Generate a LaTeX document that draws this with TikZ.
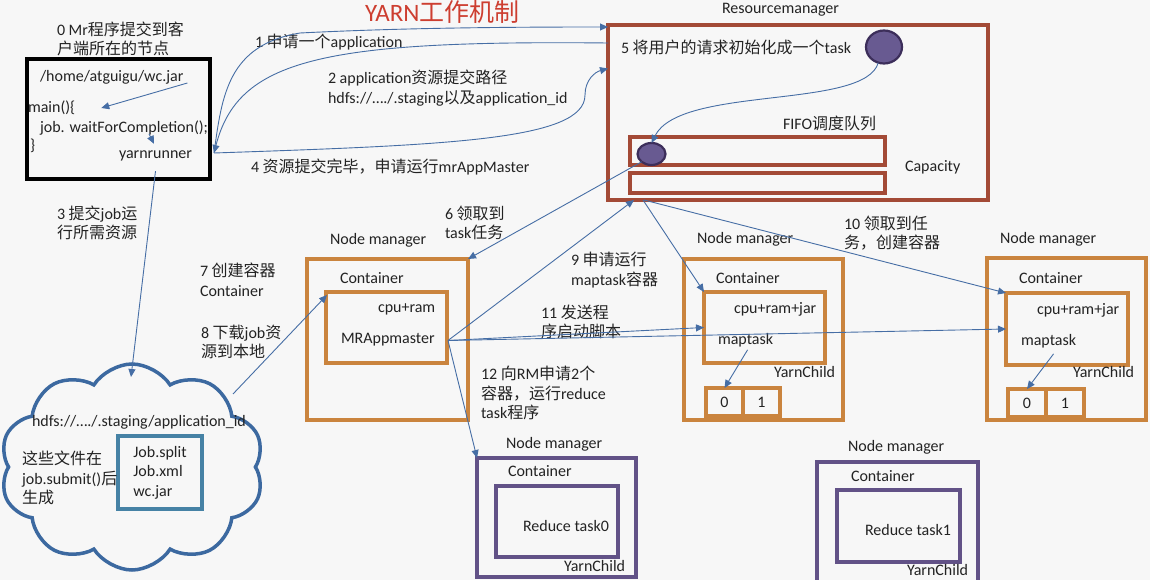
\documentclass[tikz,border=0pt]{standalone}
\usepackage{fontspec}
\setmainfont{Carlito}
\newfontfamily\cjk{Noto Sans CJK SC}
\newcommand{\zh}[1]{{\cjk #1}}
\usepackage{tikz}
\usetikzlibrary{arrows.meta,positioning,shapes.geometric,shapes.symbols,calc}
\definecolor{paper}{RGB}{247,247,247}
\definecolor{ink}{RGB}{35,35,35}
\definecolor{titlered}{RGB}{205,62,48}
\definecolor{rmred}{RGB}{163,74,54}
\definecolor{nmorange}{RGB}{202,132,62}
\definecolor{rdpurple}{RGB}{98,82,135}
\definecolor{dotfill}{RGB}{104,90,145}
\definecolor{dotedge}{RGB}{60,46,90}
\definecolor{flowblue}{RGB}{70,110,165}
\definecolor{cloudblue}{RGB}{60,105,160}
\definecolor{filebox}{RGB}{70,130,165}

\begin{document}
\begin{tikzpicture}[x=1pt, y=-1pt, >={Triangle[length=8pt,width=7pt]},
    every node/.style={font=\fontsize{16}{19.5}\selectfont, text=ink, inner sep=0pt, outer sep=0pt},
    txt/.style={anchor=west, align=left},
    box/.style={draw, line width=3.5pt},
    rmbox/.style={box, draw=rmred},
    nmbox/.style={box, draw=nmorange},
    rdbox/.style={box, draw=rdpurple},
    jobdot/.style={ellipse, draw=dotedge, fill=dotfill, line width=2.2pt},
    flow/.style={->, draw=flowblue, line width=0.9pt}]

  \path[use as bounding box, fill=paper] (0,0) rectangle (1150,580);

  % title
  \node[txt, text=titlered, font=\fontsize{25}{28}\selectfont] (title) at (365,12) {YARN\zh{工作机制}};

  % client node
  \node[box, draw=black, line width=4pt, minimum width=183pt, minimum height=120pt] (client) at (118.5,119) {};
  \node[txt] (clientlbl) at (57,39) {0 Mr\zh{程序提交到客}\\\zh{户端所在的节点}};
  \node[txt] (jar) at (40,77) {/home/atguigu/wc.jar};
  \node[txt] (mainfn) at (28,108) {main()\{};
  \node[txt] (waitfc) at (40,128) {job. waitForCompletion();};
  \node[txt] (brace) at (30,146) {\}};
  \node[txt] (yarnrunner) at (119,156) {yarnrunner};
  \draw[flow] ($(jar.east)+(4,6)$) -- ($(mainfn.east)+(26,0)$);
  \draw[flow] ($(yarnrunner.north west)+(30,-17)$) -- ($(yarnrunner.north west)+(35,-7)$);
  \coordinate (yr) at ($(client.east)+(4,34)$);

  % resource manager
  \node[txt] (rmlbl) at (722,10) {Resourcemanager};
  \node[rmbox, minimum width=380pt, minimum height=175pt] (rm) at (798,112.5) {};
  \node[txt] (rmtask) at (621,47) {5 \zh{将用户的请求初始化成一个}task};
  \node[jobdot, minimum width=36pt, minimum height=33pt] (newjob) at (884,47) {};
  \node[txt] (fifo) at (783,123) {FIFO\zh{调度队列}};
  \node[rmbox, minimum width=255pt, minimum height=28pt] (queue1) at (757.5,151) {};
  \node[rmbox, minimum width=255pt, minimum height=20pt] (queue2) at (757.5,183) {};
  \node[jobdot, minimum width=28pt, minimum height=22pt] (queued) at (651.5,154) {};
  \node[txt] (capacity) at (905,167) {Capacity};
  \draw[flow] (newjob.250) .. controls (865,110) and (680,85) .. (queued.north);

  % client <-> resource manager
  \node[txt] (step1) at (255,42) {1 \zh{申请一个}application};
  \node[txt] (step2) at (328,88) {2 application\zh{资源提交路径}\\hdfs://…./.staging\zh{以及}application\_id};
  \node[txt] (step4) at (251,167) {4 \zh{资源提交完毕，申请运行}mrAppMaster};
  \draw[flow] (yr) .. controls (222,95) and (228,45) .. (300,33) .. controls (400,28) and (500,27) .. ($(rm.north west)+(0,2)$);
  \draw[flow] ($(rm.north west)+(0,18)$) .. controls (320,40) and (238,60) .. (yr);
  \draw[flow] (yr) .. controls (450,145) and (585,140) .. (585,95) .. controls (585,80) and (595,72) .. ($(rm.west)+(0,-44)$);

  % job resources on hdfs
  \node[txt] (step3) at (57,223) {3 \zh{提交}job\zh{运}\\\zh{行所需资源}};
  \node[cloud, draw=cloudblue, line width=3.5pt, cloud puffs=10, cloud puff arc=115, cloud ignores aspect,
        minimum width=264pt, minimum height=206pt] (staging) at (132,467) {};
  \node[txt] (stagepath) at (32,422) {hdfs://…./.staging/application\_id};
  \node[draw=filebox, line width=3.2pt, minimum width=84pt, minimum height=73pt, align=left] (jobfiles) at (160,472.5) {Job.split\\Job.xml\\wc.jar};
  \node[txt] (gennote) at (22,478) {\zh{这些文件在}\\job.submit()\zh{后}\\\zh{生成}};
  \draw[flow] ($(yarnrunner.south)+(0,10)$) -- ($(staging.center)+(-1,-90)$);

  % node manager with MRAppmaster
  \node[txt] (nm1lbl) at (330,240) {Node manager};
  \node[nmbox, minimum width=161pt, minimum height=161pt] (nm1) at (387.5,339.5) {};
  \node[txt] (nm1ct) at (340,278) {Container};
  \node[nmbox, minimum width=121pt, minimum height=71pt] (mrbox) at (386.5,327.5) {};
  \node[txt] (nm1res) at (378,309) {cpu+ram};
  \node[txt] (mrapp) at (341,340) {MRAppmaster};
  \coordinate (mrp) at ($(mrbox.east)+(1,13)$);

  % step labels
  \node[txt] (step6) at (445,223) {6 \zh{领取到}\\task\zh{任务}};
  \node[txt] (step7) at (200,280) {7 \zh{创建容器}\\Container};
  \node[txt] (step8) at (201,342) {8 \zh{下载}job\zh{资}\\\zh{源到本地}};
  \node[txt] (step9) at (571,270) {9 \zh{申请运行}\\maptask\zh{容器}};
  \node[txt] (step10) at (844,233) {10 \zh{领取到任}\\\zh{务，创建容器}};
  \node[txt] (step11) at (541,322) {11 \zh{发送程}\\\zh{序启动脚本}};
  \node[txt] (step12) at (481,393) {12 \zh{向}RM\zh{申请}2\zh{个}\\\zh{容器，运行}reduce\\task\zh{程序}};

  % map task node managers
  \node[txt] (nm2lbl) at (697,239) {Node manager};
  \node[nmbox, minimum width=159pt, minimum height=161pt] (nm2) at (763.5,339.5) {};
  \node[txt] (nm2ct) at (716,278) {Container};
  \node[nmbox, minimum width=121pt, minimum height=71pt] (map1) at (764.5,327.5) {};
  \node[txt] (map1res) at (734,309) {cpu+ram+jar};
  \node[txt] (map1name) at (718,340) {maptask};
  \node[txt] (map1yc) at (774,372) {YarnChild};
  \node[nmbox, minimum width=37pt, minimum height=28pt] (part1a) at (724.5,402) {0};
  \node[nmbox, minimum width=37pt, minimum height=28pt] (part1b) at (761.5,402) {1};
  \draw[flow] ($(map1name.south)+(2,3)$) -- (part1a.north);

  \node[txt] (nm3lbl) at (1000,239) {Node manager};
  \node[nmbox, minimum width=159pt, minimum height=162pt] (nm3) at (1066.5,339) {};
  \node[txt] (nm3ct) at (1019,278) {Container};
  \node[nmbox, minimum width=122pt, minimum height=72pt] (map2) at (1067,329) {};
  \node[txt] (map2res) at (1037,310) {cpu+ram+jar};
  \node[txt] (map2name) at (1021,341) {maptask};
  \node[txt] (map2yc) at (1073,372) {YarnChild};
  \node[nmbox, minimum width=38pt, minimum height=28pt] (part2a) at (1027,403) {0};
  \node[nmbox, minimum width=38pt, minimum height=28pt] (part2b) at (1065,403) {1};
  \draw[flow] ($(map2name.south)+(5,6)$) -- (part2a.north);

  % reduce task node managers
  \node[txt] (rnm1lbl) at (506,444) {Node manager};
  \node[rdbox, minimum width=159pt, minimum height=119pt] (rnm1) at (556.5,517.5) {};
  \node[txt] (rnm1ct) at (508,471) {Container};
  \node[rdbox, minimum width=122pt, minimum height=71pt] (red0) at (557,521.5) {};
  \node[txt] (red0name) at (523,526) {Reduce task0};
  \node[txt] (red0yc) at (564,566) {YarnChild};

  \node[txt] (rnm2lbl) at (848,447) {Node manager};
  \node[rdbox, minimum width=161pt, minimum height=124pt] (rnm2) at (897.5,524) {};
  \node[txt] (rnm2ct) at (851,476) {Container};
  \node[rdbox, minimum width=123pt, minimum height=72pt] (red1) at (898.5,526) {};
  \node[txt] (red1name) at (865,530) {Reduce task1};
  \node[txt] (red1yc) at (907,570) {YarnChild};

  % connectors
  \draw[flow] (queued.south west) -- (nm1.north east);
  \draw[flow] ($(staging.center)+(101,-73)$) -- ($(mrbox.north west)+(1,3)$);
  \draw[flow] (mrp) -- ($(rm.south west)+(26,0)$);
  \draw[flow] ($(rm.south west)+(35,0)$) -- (map1.north west);
  \draw[flow] ($(rm.south west)+(36,0)$) -- (map2.north west);
  \draw[flow] (mrp) -- (map1.west);
  \draw[flow] (mrp) -- (map2.west);
  \draw[flow] (mrp) -- (rnm1.north west);
\end{tikzpicture}
\end{document}
